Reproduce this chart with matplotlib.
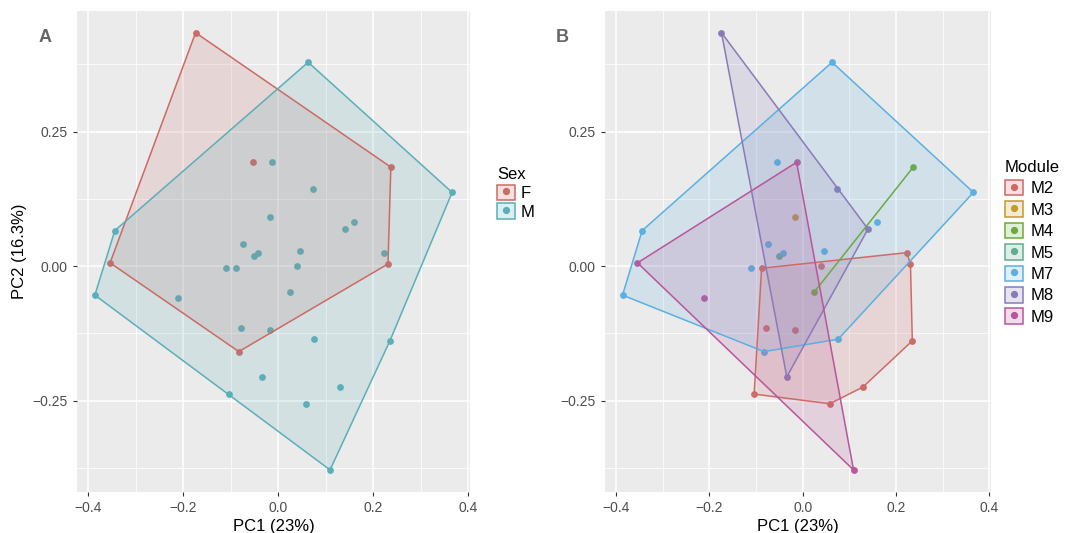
import numpy as np
import matplotlib
matplotlib.use("Agg")
import matplotlib.pyplot as plt
from matplotlib.patches import Patch, Polygon
from matplotlib.lines import Line2D
from matplotlib.legend_handler import HandlerTuple

plt.rcParams['font.family'] = ['Liberation Sans', 'DejaVu Sans']

# PCA scores
pc1 = [-0.174, 0.063, -0.054, -0.013, 0.237, 0.366, 0.073, -0.017, 0.160, 0.140,
       -0.344, -0.075, 0.045, 0.223, -0.042, -0.050, -0.354, -0.110, -0.088, 0.040,
       0.231, -0.386, -0.212, 0.025, -0.079, -0.017, 0.076, -0.083, 0.235, -0.034,
       0.129, -0.104, 0.058, 0.109]
pc2 = [0.434, 0.379, 0.193, 0.193, 0.184, 0.137, 0.144, 0.091, 0.082, 0.069,
       0.066, 0.041, 0.028, 0.025, 0.024, 0.018, 0.006, -0.004, -0.004, 0.001,
       0.004, -0.054, -0.059, -0.048, -0.116, -0.119, -0.136, -0.159, -0.139, -0.206,
       -0.225, -0.238, -0.256, -0.379]
sex = ['F', 'M', 'F', 'M', 'F', 'M', 'M', 'M', 'M', 'M',
       'M', 'M', 'M', 'M', 'M', 'M', 'F', 'M', 'M', 'M',
       'F', 'M', 'M', 'M', 'M', 'M', 'M', 'F', 'M', 'M',
       'M', 'M', 'M', 'M']
module = ['M8', 'M7', 'M7', 'M9', 'M4', 'M7', 'M8', 'M3', 'M7', 'M8',
          'M7', 'M7', 'M7', 'M2', 'M7', 'M5', 'M9', 'M7', 'M2', 'M2',
          'M2', 'M7', 'M9', 'M4', 'M2', 'M2', 'M7', 'M7', 'M2', 'M8',
          'M2', 'M2', 'M2', 'M9']

sex_levels = ['F', 'M']
sex_colors = ['#CC6A63', '#5AAFB9']
module_levels = ['M2', 'M3', 'M4', 'M5', 'M7', 'M8', 'M9']
module_colors = ['#D06A66', '#C39B2A', '#6BAA3E', '#5FAE8E', '#5AB0E2', '#8A7BB8', '#B8559C']

pc1 = np.array(pc1)
pc2 = np.array(pc2)


def convex_hull(pts):
    pts = sorted(set(map(tuple, pts)))
    if len(pts) < 3:
        return pts

    def cross(o, a, b):
        return (a[0]-o[0])*(b[1]-o[1]) - (a[1]-o[1])*(b[0]-o[0])
    lower = []
    for p in pts:
        while len(lower) >= 2 and cross(lower[-2], lower[-1], p) <= 0:
            lower.pop()
        lower.append(p)
    upper = []
    for p in reversed(pts):
        while len(upper) >= 2 and cross(upper[-2], upper[-1], p) <= 0:
            upper.pop()
        upper.append(p)
    return lower[:-1] + upper[:-1]


def draw_panel(ax, groups, levels, colors):
    groups = np.array(groups)
    for lev, col in zip(levels, colors):
        m = groups == lev
        ax.scatter(pc1[m], pc2[m], s=24, color=col, zorder=2, linewidths=0)
    for lev, col in zip(levels, colors):
        m = groups == lev
        hull = convex_hull(np.column_stack([pc1[m], pc2[m]]))
        if len(hull) >= 3:
            ax.add_patch(Polygon(hull, closed=True, facecolor=col, alpha=0.17,
                                 edgecolor='none', zorder=3))
            ax.add_patch(Polygon(hull, closed=True, facecolor='none',
                                 edgecolor=col, lw=1.1, zorder=4))
        elif len(hull) == 2:
            h = np.array(hull)
            ax.plot(h[:, 0], h[:, 1], color=col, lw=1.1, zorder=4)

    ax.set_facecolor('#EBEBEB')
    for s in ax.spines.values():
        s.set_visible(False)
    ax.set_xlim(-0.4236, 0.4036)
    ax.set_ylim(-0.4197, 0.4747)
    ax.set_xticks([-0.4, -0.2, 0.0, 0.2, 0.4])
    ax.set_xticklabels(['\u22120.4', '\u22120.2', '0.0', '0.2', '0.4'])
    ax.set_yticks([-0.25, 0.0, 0.25])
    ax.set_yticklabels(['\u22120.25', '0.00', '0.25'])
    ax.set_xticks([-0.3, -0.1, 0.1, 0.3], minor=True)
    ax.set_yticks([-0.375, -0.125, 0.125, 0.375], minor=True)
    ax.grid(which='major', color='white', lw=1.1)
    ax.grid(which='minor', color='white', lw=0.55)
    ax.set_axisbelow(True)
    ax.tick_params(which='major', length=3, width=0.8, color='#333333',
                   labelcolor='#4D4D4D', labelsize=10)
    ax.tick_params(which='minor', length=0)
    ax.set_xlabel('PC1 (23%)', fontsize=12, labelpad=3)

    handles = [(Patch(facecolor=c, alpha=0.2, edgecolor='none'),
                Patch(facecolor='none', edgecolor=c, lw=1.1),
                Line2D([], [], marker='o', color=c, ls='', markersize=4.2))
               for c in colors]
    return handles


fig = plt.figure(figsize=(10.75, 5.33), dpi=100)
W, H = 1075, 533
axA = fig.add_axes([77/W, 1-491.8/H, 393/W, 481/H])
axB = fig.add_axes([605/W, 1-491.8/H, 386/W, 481/H])

hA = draw_panel(axA, sex, sex_levels, sex_colors)
hB = draw_panel(axB, module, module_levels, module_colors)
axA.set_ylabel('PC2 (16.3%)', fontsize=12, labelpad=4)

legA = fig.legend(hA, sex_levels, title='Sex', loc='upper left',
                  bbox_to_anchor=(482/W, 1-152/H), frameon=False,
                  handler_map={tuple: HandlerTuple(ndivide=1, pad=0)},
                  handlelength=1.05, handleheight=1.05, handletextpad=0.35,
                  labelspacing=0.15, fontsize=12, title_fontsize=12,
                  alignment='left')
legB = fig.legend(hB, module_levels, title='Module', loc='upper left',
                  bbox_to_anchor=(990/W, 1-145/H), frameon=False,
                  handler_map={tuple: HandlerTuple(ndivide=1, pad=0)},
                  handlelength=1.05, handleheight=1.05, handletextpad=0.5,
                  labelspacing=0.3, fontsize=12, title_fontsize=12,
                  alignment='left')

fig.text(45/W, 1-38/H, 'A', fontsize=13, fontweight='bold', color='#666666',
         ha='center', va='center')
fig.text(562/W, 1-38/H, 'B', fontsize=13, fontweight='bold', color='#666666',
         ha='center', va='center')

fig.savefig('out.png', dpi=100)
